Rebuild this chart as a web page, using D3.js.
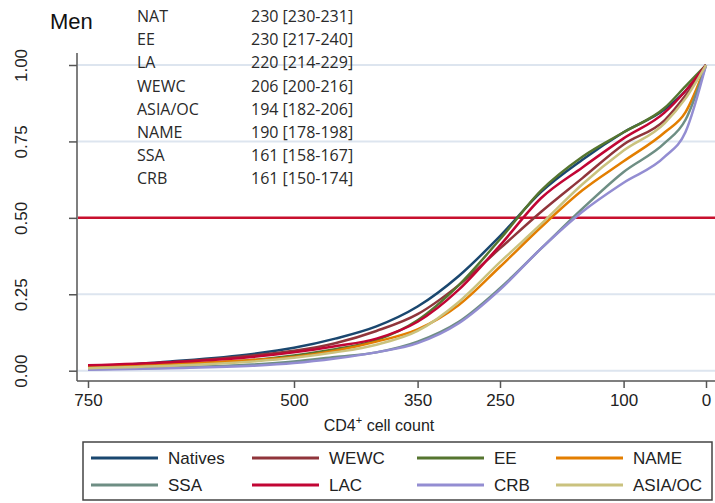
<!DOCTYPE html>
<meta charset="utf-8">
<style>
  body { margin: 0; background: #fff; }
  svg { display: block; }
  .tick text { font-family: "Liberation Sans", Arial, sans-serif; }
</style>
<body>
<svg width="715" height="503"></svg>
<script src="https://d3js.org/d3.v7.min.js"></script>
<script>
// CD4 count grid (x) and proportion for each group (y)
var cd4 = [750, 650, 550, 500, 450, 400, 350, 300, 250, 200, 150, 100, 50, 25, 0];

var natives = [0.012, 0.030, 0.055, 0.075, 0.105, 0.145, 0.210, 0.310, 0.440, 0.585, 0.690, 0.780, 0.855, 0.915, 1.0];
var wewc    = [0.014, 0.028, 0.050, 0.065, 0.090, 0.130, 0.185, 0.280, 0.400, 0.520, 0.630, 0.740, 0.820, 0.900, 1.0];
var ee      = [0.008, 0.018, 0.035, 0.050, 0.070, 0.100, 0.165, 0.280, 0.430, 0.590, 0.700, 0.780, 0.860, 0.930, 1.0];
var name_   = [0.012, 0.022, 0.035, 0.045, 0.065, 0.095, 0.135, 0.215, 0.340, 0.470, 0.590, 0.685, 0.780, 0.845, 1.0];
var ssa     = [0.005, 0.010, 0.020, 0.030, 0.045, 0.060, 0.095, 0.160, 0.270, 0.400, 0.530, 0.650, 0.745, 0.820, 1.0];
var lac     = [0.018, 0.028, 0.045, 0.060, 0.080, 0.105, 0.160, 0.265, 0.410, 0.565, 0.665, 0.760, 0.845, 0.915, 1.0];
var crb     = [0.003, 0.008, 0.016, 0.025, 0.040, 0.060, 0.090, 0.155, 0.265, 0.400, 0.520, 0.615, 0.700, 0.780, 1.0];
var asiaoc  = [0.008, 0.016, 0.030, 0.042, 0.060, 0.085, 0.130, 0.225, 0.355, 0.480, 0.610, 0.720, 0.810, 0.890, 1.0];

var seriesNames = ["Natives", "WEWC", "EE", "NAME", "SSA", "LAC", "CRB", "ASIA/OC"];
var seriesValues = [natives, wewc, ee, name_, ssa, lac, crb, asiaoc];
var seriesColors = ["#1a476f", "#90353b", "#55752f", "#e37e00", "#6e8e84", "#c10534", "#938dd2", "#cac27e"];

// median table in the top-left
var tableLabels = ["NAT", "EE", "LA", "WEWC", "ASIA/OC", "NAME", "SSA", "CRB"];
var tableValues = ["230 [230-231]", "230 [217-240]", "220 [214-229]", "206 [200-216]",
                   "194 [182-206]", "190 [178-198]", "161 [158-167]", "161 [150-174]"];

var xTicks = [750, 500, 350, 250, 100, 0];
var yTicks = [0, 0.25, 0.5, 0.75, 1];

var svg = d3.select("svg");

var xScale = d3.scaleLinear().domain([750, 0]).range([88, 706]);
var yScale = d3.scaleLinear().domain([0, 1]).range([370.7, 65]);

// grid lines
svg.selectAll(".grid")
  .data(yTicks.filter(function (d) { return d !== 0.5; }))
  .enter().append("line")
    .attr("x1", 78).attr("x2", 715)
    .attr("y1", function (d) { return yScale(d); })
    .attr("y2", function (d) { return yScale(d); })
    .attr("stroke", "#dde5ef")
    .attr("stroke-width", 2);

// title + table
svg.append("text")
  .attr("x", 50).attr("y", 29)
  .style("font-family", "Liberation Sans, Arial, sans-serif")
  .style("font-size", "22px")
  .attr("fill", "#111")
  .text("Men");

tableLabels.forEach(function (l, i) {
  var yy = 22 + i * 23.2;
  svg.append("text").attr("x", 137).attr("y", yy)
    .style("font-family", "Open Sans, sans-serif").style("font-size", "16px")
    .attr("fill", "#2a2a2a").text(l);
  svg.append("text").attr("x", 251).attr("y", yy)
    .style("font-family", "Open Sans, sans-serif").style("font-size", "16px")
    .attr("fill", "#2a2a2a").text(tableValues[i]);
});

// red median line
svg.append("line")
  .attr("x1", 78).attr("x2", 715)
  .attr("y1", yScale(0.5)).attr("y2", yScale(0.5))
  .attr("stroke", "#c8102e")
  .attr("stroke-width", 2.5);

// curves
var line = d3.line()
  .x(function (d) { return xScale(d[0]); })
  .y(function (d) { return yScale(d[1]); })
  .curve(d3.curveMonotoneX);

seriesValues.forEach(function (vals, i) {
  svg.append("path")
    .datum(cd4.map(function (c, j) { return [c, vals[j]]; }))
    .attr("d", line)
    .attr("fill", "none")
    .attr("stroke", seriesColors[i])
    .attr("stroke-width", 2.5);
});

// axes
var xAxis = svg.append("g")
  .attr("transform", "translate(0,381)")
  .call(d3.axisBottom(xScale).tickValues(xTicks).tickSize(7).tickSizeOuter(0).tickPadding(6));
xAxis.select(".domain").attr("d", "M77,0H715");
xAxis.selectAll("text").style("font-size", "17px").attr("fill", "#222");

var yAxis = svg.append("g")
  .attr("transform", "translate(77,0)")
  .call(d3.axisLeft(yScale).tickValues(yTicks).tickFormat(d3.format(".2f")).tickSize(8).tickSizeOuter(0));
yAxis.select(".domain").attr("d", "M0,53V381");
yAxis.selectAll("text")
  .style("font-size", "17px").attr("fill", "#222")
  .attr("text-anchor", "middle")
  .attr("x", 0).attr("dy", 0)
  .attr("transform", "translate(-50,0) rotate(-90)");

svg.selectAll(".domain, .tick line").attr("stroke", "#555").attr("stroke-width", 1.5);

// x axis title
var xt = svg.append("text")
  .attr("x", 379).attr("y", 431)
  .attr("text-anchor", "middle")
  .style("font-family", "Liberation Sans, Arial, sans-serif")
  .style("font-size", "16px")
  .attr("fill", "#222");
xt.append("tspan").text("CD4");
xt.append("tspan").attr("dy", -7).style("font-size", "11px").text("+");
xt.append("tspan").attr("dy", 7).text(" cell count");

// legend
svg.append("rect")
  .attr("x", 83).attr("y", 442).attr("width", 629).attr("height", 58)
  .attr("fill", "none").attr("stroke", "#444").attr("stroke-width", 1.5);

var legendCols = [91, 252, 417, 556];
seriesNames.forEach(function (n, i) {
  var col = i % 4, row = Math.floor(i / 4);
  var lx = legendCols[col], ly = 458 + row * 27;
  svg.append("line")
    .attr("x1", lx).attr("x2", lx + 67).attr("y1", ly).attr("y2", ly)
    .attr("stroke", seriesColors[i]).attr("stroke-width", 3);
  svg.append("text")
    .attr("x", lx + 77).attr("y", ly + 6)
    .style("font-family", "Liberation Sans, Arial, sans-serif")
    .style("font-size", "17px")
    .attr("fill", "#222")
    .text(n);
});
</script>
</body>
